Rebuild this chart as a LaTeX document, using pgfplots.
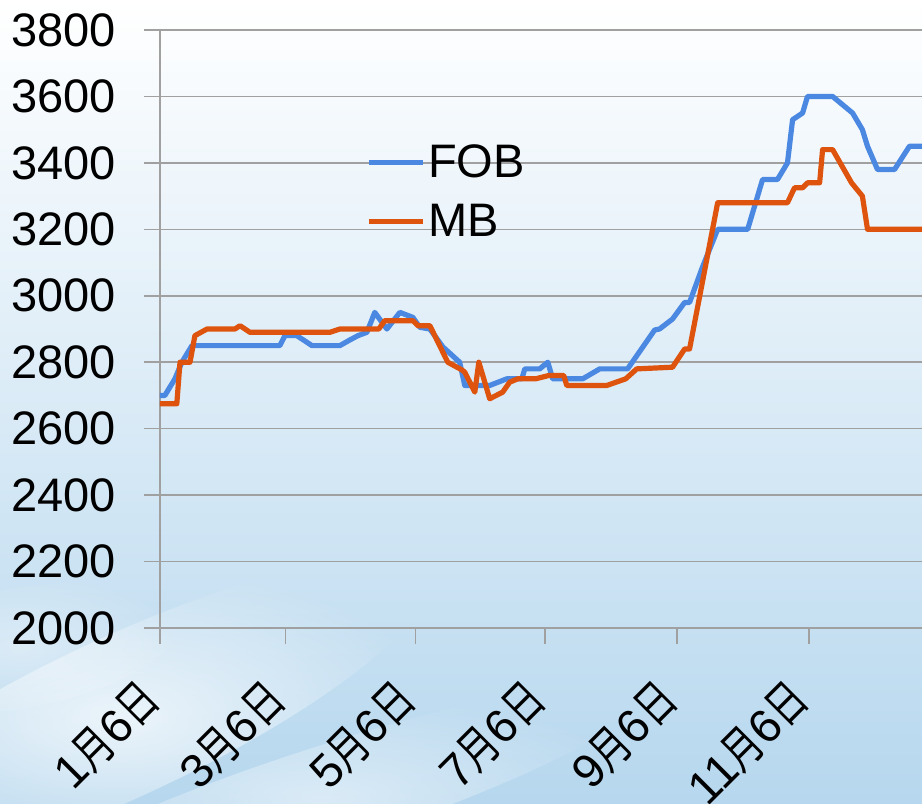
\documentclass[border=0pt]{standalone}
\usepackage{pgfplots}
\pgfplotsset{compat=1.18}
\usetikzlibrary{fadings}
\tikzfading[name=softfade, inner color=transparent!0, outer color=transparent!100]
\usepackage{fontspec}
\setmainfont{Liberation Sans}
\newfontfamily\cjk{Noto Sans CJK SC}
\newcommand{\yue}{\scalebox{0.78}[1]{\cjk 月}}
\newcommand{\ri}{\scalebox{0.78}[1]{\cjk 日}}
\definecolor{fobblue}{RGB}{74,136,226}
\definecolor{mborange}{RGB}{222,84,14}
\definecolor{gridgray}{RGB}{160,160,160}
\begin{document}
\begin{tikzpicture}
\shade[top color=white, middle color={rgb,255:red,236;green,244;blue,251}, bottom color={rgb,255:red,182;green,215;blue,238}] (-80pt,-88pt) rectangle (381pt,314pt);
\begin{scope}
\clip (-80pt,-88pt) rectangle (381pt,314pt);
\fill[white, opacity=0.7, path fading=softfade, rotate around={25:(-20pt,-45pt)}] (-20pt,-45pt) ellipse (170pt and 40pt);
\fill[white, opacity=0.5, path fading=softfade, rotate around={18:(80pt,-85pt)}] (80pt,-85pt) ellipse (170pt and 25pt);
\fill[white, opacity=0.4, path fading=softfade, rotate around={10:(-70pt,-10pt)}] (-70pt,-10pt) ellipse (80pt and 30pt);
\end{scope}
\begin{axis}[
  name=ax, at={(0,0)}, anchor=south west,
  scale only axis, width=381pt, height=299pt,
  xmin=0, xmax=358, ymin=2000, ymax=3800,
  xtick={0,59,120,181,243,305},
  xticklabels={1\yue6\ri,3\yue6\ri,5\yue6\ri,7\yue6\ri,9\yue6\ri,11\yue6\ri},
  ytick={2000,2200,...,3800},
  /pgf/number format/1000 sep={},
  /pgf/number format/assume math mode=true,
  axis x line*=bottom, axis y line*=left,
  axis line style={draw=gridgray, line width=0.8pt, -},
  ymajorgrids, grid style={draw=gridgray, line width=0.8pt},
  tick align=outside, major tick length=8pt,
  tick style={draw=gridgray, line width=0.8pt},
  tick label style={font=\fontsize{23.5}{28}\selectfont, text=black},
  yticklabel style={xshift=-10.5pt},
  xticklabel style={xshift=-2pt, yshift=-21pt, rotate=45, anchor=east},
  legend style={draw=none, fill=none, at={(rel axis cs:0.262,0.823)}, anchor=north west,
    font=\fontsize{23.5}{28}\selectfont, row sep=8pt,
    nodes={inner xsep=1.5pt}},
  legend cell align=left,
  legend image code/.code={\draw[#1] (0pt,0pt) -- (27pt,0pt);},
  every axis plot/.append style={line width=2.6pt, line join=round},
]
\addplot[fobblue] coordinates {
(0,2700) (2.3,2700) (7.0,2750) (10.3,2800) (15.0,2850) (56.3,2850) (58.7,2880)
(64.3,2880) (71.4,2850) (84.5,2850) (89.2,2867) (93.0,2880) (97.2,2890)
(100.9,2950) (106.6,2900) (112.7,2950) (118.8,2935) (122.1,2905) (126.8,2900)
(132.9,2846) (140.8,2800) (143.2,2730) (154.9,2730) (162.9,2750) (170.0,2750)
(171.4,2780) (178.4,2780) (182.2,2800) (184.5,2750) (198.6,2750) (206.6,2780)
(219.7,2780) (232.4,2897) (234.7,2900) (240.8,2930) (246.5,2980) (248.8,2980)
(254.9,3087) (262.0,3200) (276.1,3200) (283.1,3350) (290.1,3350) (294.8,3400)
(297.2,3530) (301.9,3550) (304.2,3600) (316.0,3600) (325.4,3550) (330.0,3500)
(332.4,3450) (337.1,3380) (345.1,3380) (352.1,3450) (360,3450)
};
\addlegendentry{FOB}
\addplot[mborange] coordinates {
(0,2675) (7.9,2675) (9.4,2800) (14.1,2800) (16.4,2880) (22.1,2900) (35.2,2900)
(37.6,2910) (42.3,2890) (79.8,2890) (84.5,2900) (102.8,2900) (105.6,2925)
(118.8,2925) (121.2,2910) (126.8,2910) (135.2,2800) (141.8,2777) (143.2,2770)
(147.9,2710) (149.8,2800) (154.9,2690) (161.0,2710) (164.3,2740) (168.1,2750)
(176.5,2750) (182.6,2760) (189.7,2760) (191.1,2730) (209.9,2730) (218.8,2750)
(224.0,2780) (240.8,2785) (246.5,2840) (248.8,2840) (262.0,3280) (294.8,3280)
(298.1,3325) (301.9,3325) (304.2,3340) (309.9,3340) (311.3,3440) (316.0,3440)
(324.9,3340) (330.0,3300) (332.4,3200) (360,3200)
};
\addlegendentry{MB}
\end{axis}
\pgfresetboundingbox
\path[use as bounding box] (-80pt,-88pt) rectangle (381pt,314pt);
\end{tikzpicture}
\end{document}
